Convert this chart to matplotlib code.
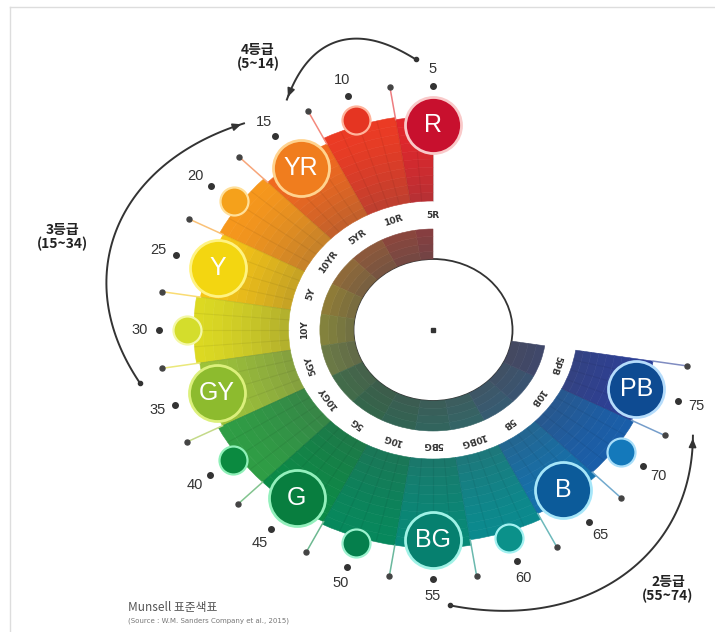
import numpy as np
import matplotlib.pyplot as plt
from matplotlib.patches import Wedge, Circle
from matplotlib.lines import Line2D
from matplotlib.colors import to_rgb

# Munsell hues shown on the wheel (5-step), with their chroma (bar length)
hues = [5, 10, 15, 20, 25, 30, 35, 40, 45, 50, 55, 60, 65, 70, 75]
chroma = [12.0, 12.3, 11.4, 12.1, 11.6, 12.1, 11.7, 12.3, 12.3, 12.7, 12.7, 11.9, 11.0, 10.3, 10.0]
hue_names = ['R', '', 'YR', '', 'Y', '', 'GY', '', 'G', '', 'BG', '', 'B', '', 'PB']
band_labels = ['5R', '10R', '5YR', '10YR', '5Y', '10Y', '5GY', '10GY',
               '5G', '10G', '5BG', '10BG', '5B', '10B', '5PB']
hue_colors = ['#e3262b', '#ec3b24', '#f1691f', '#f7971c', '#f7c516', '#dcd922', '#9cc23a', '#2f9d45',
              '#0b8b47', '#07885c', '#078a78', '#0b8a8e', '#1471ad', '#1a5ea9', '#2b3f98']
circle_fill = ['#c8102e', '#e53522', '#f07d1e', '#f5a11b', '#f3d611', '#d4dd2c', '#8dbb2e', '#0b8a40',
               '#087e3f', '#057f4c', '#06806f', '#0b918a', '#0c5b9a', '#1479bb', '#0e4b92']
circle_edge = ['#f9c9c9', '#ffb49c', '#ffd38f', '#ffe09a', '#fff383', '#f4f8a6', '#dcf07c', '#8ff0b8',
               '#93f0bc', '#9df2cf', '#9ff2e6', '#a2f1f1', '#a6e6f9', '#a8def9', '#b5dcfb']

# grade brackets
grade_names = ['4등급', '3등급', '2등급']
grade_ranges = [(5, 14), (15, 34), (55, 74)]

# geometry (pixels, y up); the wheel is slightly wider than tall
SX = 1.12
W_PX, H_PX = 715, 632
CX, CY = 433 / SX, H_PX - 330
R_HOLE, R_GRAY, R_BAND = 71, 101, 129
PX_PER_CHROMA = 7


def ang(h):
    return 90 + (h - 5) * 3.6


def polar(h, r):
    t = np.radians(ang(h))
    return CX + r * np.cos(t), CY + r * np.sin(t)


def px(x, y):
    return x / SX, H_PX - y


def mix(c1, c2, f):
    a, b = np.array(to_rgb(c1)), np.array(to_rgb(c2))
    return tuple(a * (1 - f) + b * f)


fig = plt.figure(figsize=(7.15, 6.32), dpi=100)
ax = fig.add_axes([0, 0, 1, 1])
ax.set_xlim(0, W_PX / SX)
ax.set_ylim(0, H_PX)
ax.axis('off')

# frame lines
fig.add_artist(Line2D([10 / W_PX, 1], [1 - 7 / H_PX] * 2, color='#dddddd', lw=1))
fig.add_artist(Line2D([10 / W_PX] * 2, [0, 1 - 7 / H_PX], color='#dddddd', lw=1))

# inner hole
ax.add_patch(Circle((CX, CY), R_HOLE, facecolor='white', edgecolor='#333333', lw=1.3, zorder=1))
ax.plot(CX, CY, 's', ms=3, color='#333333', zorder=2)

outer = [R_BAND + PX_PER_CHROMA * c for c in chroma]
n = len(hues)

for i, h in enumerate(hues):
    lo, hi = max(h - 2.5, 5), h + 2.5
    base = hue_colors[i]
    # colored chroma band with radial shading
    nl = 10
    for k in range(nl):
        r1 = R_BAND + (outer[i] - R_BAND) * k / nl
        r2 = R_BAND + (outer[i] - R_BAND) * (k + 1) / nl
        f = (1 - (k + 0.5) / nl) ** 1.5 * 0.3
        c = mix(base, '#4a4a4a', f)
        ax.add_patch(Wedge((CX, CY), r2, ang(lo), ang(hi), width=r2 - r1,
                           facecolor=c, edgecolor=c, lw=0.4, zorder=2))
    # muted gray ring
    for k in range(4):
        r1 = R_HOLE + (R_GRAY - R_HOLE) * k / 4
        r2 = R_HOLE + (R_GRAY - R_HOLE) * (k + 1) / 4
        c = mix(base, '#4d4d4d', 0.62 + 0.04 * (3 - k))
        ax.add_patch(Wedge((CX, CY), r2, ang(lo), ang(hi), width=r2 - r1,
                           facecolor=c, edgecolor=c, lw=0.4, zorder=2))
    # thin stripe lines inside the band
    for hs in (lo, h, h + 1.25, h - 1.25):
        if hs < 5:
            continue
        x1, y1 = polar(hs, R_BAND)
        x2, y2 = polar(hs, outer[i])
        ax.plot([x1, x2], [y1, y2], color='black', alpha=0.06, lw=0.8, zorder=3)

    # band label
    x, y = polar(h, (R_GRAY + R_BAND) / 2)
    ax.text(x, y, band_labels[i], rotation=ang(h) - 90, rotation_mode='anchor',
            ha='center', va='center', fontsize=6.5, fontweight='bold', color='#333333', zorder=4)

    # hue circle
    rc = 28 if hue_names[i] else 14
    x, y = polar(h, outer[i] + 20 - rc)
    ax.scatter([x], [y], s=(1.44 * rc) ** 2, color=circle_fill[i], edgecolors=circle_edge[i],
               linewidths=2.0 if rc > 20 else 1.6, zorder=5)
    if hue_names[i]:
        ax.text(x, y, hue_names[i], color='white', fontsize=18, ha='center', va='center',
                family='Liberation Sans', zorder=6)

    # tick dot and number
    x, y = polar(h, outer[i] + 31)
    ax.plot(x, y, 'o', ms=4, color='#333333', zorder=6)
    x, y = polar(h, outer[i] + 48)
    ax.text(x, y, str(h), fontsize=10.5, ha='center', va='center', color='#333333',
            family='Liberation Sans', zorder=6)

    # intermediate tick (line + dot)
    hm = h + 2.5
    r_in = min(outer[i], outer[i + 1]) if i + 1 < n else outer[i]
    r_dot = (max(outer[i], outer[i + 1]) if i + 1 < n else outer[i]) + 31
    x1, y1 = polar(hm, r_in)
    x2, y2 = polar(hm, r_dot)
    ax.plot([x1, x2], [y1, y2], color=mix(base, 'white', 0.4), lw=1.1, zorder=4)
    ax.plot(x2, y2, 'o', ms=3.6, color='#444444', zorder=6)


def reach(hv):
    # outer edge of the band nearest to a hue value
    j = int(np.argmin([abs(hv - hh) for hh in hues]))
    return outer[j]


# grade brackets
arrow_end = ['end', 'start', 'end']
text_pos = [(258, 57), (62, 237), (668, 589)]
for name, (a, b), side, (tx, ty) in zip(grade_names, grade_ranges, arrow_end, text_pos):
    t = np.linspace(0, 1, 80)
    h0, h1 = a + 0.9, b - 0.8
    hh = h0 + (h1 - h0) * t
    r0, r1 = reach(h0) + 58, reach(h1) + 56
    rr = r0 + (r1 - r0) * t + 33 * np.sin(np.pi * t)
    xs, ys = zip(*[polar(hv, rv) for hv, rv in zip(hh, rr)])
    ax.plot(xs, ys, color='#333333', lw=1.4, zorder=4)
    if side == 'end':
        tip, tail = (xs[-1], ys[-1]), (xs[-4], ys[-4])
        dot = (xs[0], ys[0])
    else:
        tip, tail = (xs[0], ys[0]), (xs[3], ys[3])
        dot = (xs[-1], ys[-1])
    ax.annotate('', xy=tip, xytext=tail,
                arrowprops=dict(arrowstyle='-|>,head_length=0.5,head_width=0.22',
                                color='#333333', lw=1.2), zorder=5)
    ax.plot(*dot, 'o', ms=3, color='#333333', zorder=5)
    x, y = px(tx, ty)
    ax.text(x, y, f'{name}\n({a}~{b})', ha='center', va='center', fontsize=10,
            fontweight='bold', color='#222222', linespacing=1.0,
            family=['Noto Sans CJK KR', 'DejaVu Sans'], zorder=6)

# source note
x, y = px(128, 607)
ax.text(x, y, 'Munsell 표준색표', fontsize=8.5, color='#555555', ha='left', va='center',
        family=['Noto Sans CJK KR', 'DejaVu Sans'])
x, y = px(128, 621)
ax.text(x, y, '(Source : W.M. Sanders Company et al., 2015)', fontsize=5, color='#777777',
        ha='left', va='center')

fig.savefig('out.png', dpi=100)
